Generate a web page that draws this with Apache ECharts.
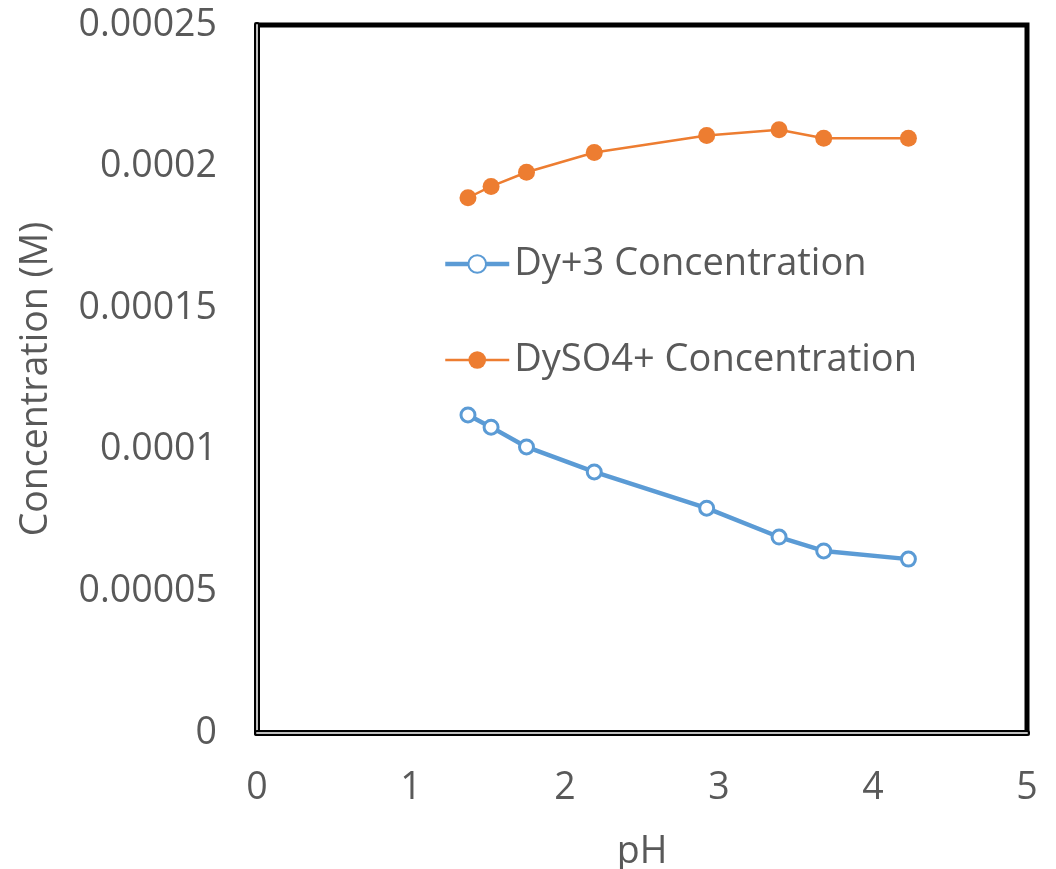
<!DOCTYPE html>
<html><head><meta charset="utf-8">
<script src="https://cdn.jsdelivr.net/npm/echarts@6/dist/echarts.min.js"></script>
<style>html,body{margin:0;padding:0;background:#fff}#c{width:1056px;height:869px}</style>
</head><body><div id="c"></div>
<script>
const pH = [1.37, 1.52, 1.75, 2.19, 2.92, 3.39, 3.68, 4.23];
const dy3 = [0.0001123, 0.000108, 0.000101, 0.0000922, 0.0000794, 0.0000692, 0.0000643, 0.0000614];
const dyso4 = [0.000189, 0.000193, 0.000198, 0.000205, 0.000211, 0.000213, 0.00021, 0.00021];
const yTicks = ['0', '0.00005', '0.0001', '0.00015', '0.0002', '0.00025'];
const F = '"Open Sans", "Liberation Sans", sans-serif';
const chart = echarts.init(document.getElementById('c'));
const toPairs = (xs, ys) => xs.map((x, i) => [x, ys[i]]);
const lbl = {color: '#595959', fontSize: 37.5, fontFamily: F};
chart.setOption({
  animation: false,
  grid: {left: 257, right: 29, top: 25, bottom: 136, outerBoundsMode: 'none', containLabel: false, show: true, borderColor: '#000', borderWidth: 5, backgroundColor: '#fff'},
  legend: {
    orient: 'vertical', left: 438, top: 240, itemGap: 58, itemWidth: 64, itemHeight: 22,
    textStyle: {color: '#595959', fontSize: 38, fontFamily: F},
    data: [
      {name: 'Dy+3 Concentration', lineStyle: {width: 4.5}},
      {name: 'DySO4+ Concentration', lineStyle: {width: 2.5}}
    ]
  },
  xAxis: [{
    type: 'value', min: 0, max: 5, interval: 1,
    name: 'pH', nameLocation: 'middle', nameGap: 100,
    nameTextStyle: lbl,
    axisLine: {show: true, onZero: false, lineStyle: {color: '#000', width: 6}},
    axisTick: {show: false}, splitLine: {show: false},
    axisLabel: Object.assign({margin: 36}, lbl)
  }, {
    type: 'value', min: 0, max: 5, position: 'bottom',
    axisLine: {show: true, onZero: false, lineStyle: {color: '#bfbfbf', width: 2}},
    axisTick: {show: false}, splitLine: {show: false}, axisLabel: {show: false}
  }],
  yAxis: [{
    type: 'value', min: 0, max: 0.00025, interval: 0.00005,
    name: 'Concentration (M)', nameLocation: 'middle', nameGap: 202,
    nameTextStyle: lbl,
    axisLine: {show: true, onZero: false, lineStyle: {color: '#000', width: 6}},
    axisTick: {show: false}, splitLine: {show: false},
    axisLabel: Object.assign({margin: 40, formatter: (v, i) => yTicks[i]}, lbl)
  }, {
    type: 'value', min: 0, max: 0.00025, position: 'left',
    axisLine: {show: true, onZero: false, lineStyle: {color: '#bfbfbf', width: 2}},
    axisTick: {show: false}, splitLine: {show: false}, axisLabel: {show: false}
  }],
  series: [{
    name: 'Dy+3 Concentration', type: 'line', data: toPairs(pH, dy3),
    symbol: 'circle', symbolSize: 14,
    itemStyle: {color: '#fff', borderColor: '#5b9bd5', borderWidth: 3},
    lineStyle: {color: '#5b9bd5', width: 4.5}, z: 3
  }, {
    name: 'DySO4+ Concentration', type: 'line', data: toPairs(pH, dyso4),
    symbol: 'circle', symbolSize: 17,
    itemStyle: {color: '#ed7d31'},
    lineStyle: {color: '#ed7d31', width: 2.5}, z: 3
  }]
});
</script></body></html>
